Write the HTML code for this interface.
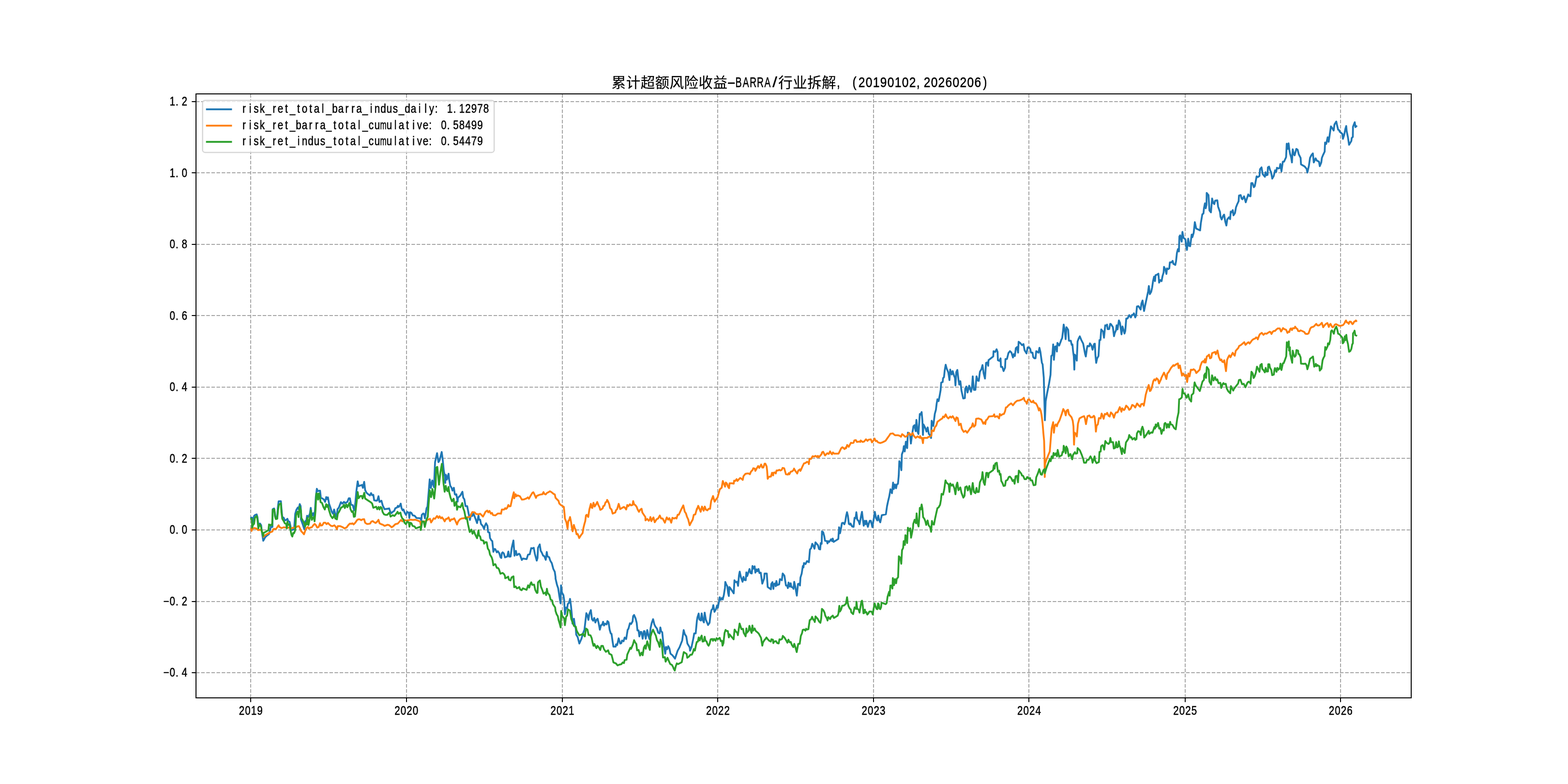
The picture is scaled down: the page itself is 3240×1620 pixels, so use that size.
<!DOCTYPE html>
<html><head><meta charset="utf-8"><title>chart</title>
<style>html,body{margin:0;padding:0;background:#fff}svg{display:block;will-change:transform}text{font-family:"Liberation Sans",sans-serif;font-size:25px;fill:#000;stroke:#000;stroke-width:0.55px;stroke-linejoin:round}</style></head>
<body>
<svg width="3240" height="1620" viewBox="0 0 3240 1620">
<rect width="3240" height="1620" fill="#fff"/>
<g stroke="#a6a6a6" stroke-width="2" stroke-dasharray="7.4 3.2" fill="none">
<line x1="518.0" y1="1442" x2="518.0" y2="194"/>
<line x1="840.0" y1="1442" x2="840.0" y2="194"/>
<line x1="1162.0" y1="1442" x2="1162.0" y2="194"/>
<line x1="1483.0" y1="1442" x2="1483.0" y2="194"/>
<line x1="1805.0" y1="1442" x2="1805.0" y2="194"/>
<line x1="2126.0" y1="1442" x2="2126.0" y2="194"/>
<line x1="2449.0" y1="1442" x2="2449.0" y2="194"/>
<line x1="2770.0" y1="1442" x2="2770.0" y2="194"/>
<line x1="405" y1="1390.0" x2="2916" y2="1390.0"/>
<line x1="405" y1="1243.0" x2="2916" y2="1243.0"/>
<line x1="405" y1="1095.0" x2="2916" y2="1095.0"/>
<line x1="405" y1="947.0" x2="2916" y2="947.0"/>
<line x1="405" y1="800.0" x2="2916" y2="800.0"/>
<line x1="405" y1="652.0" x2="2916" y2="652.0"/>
<line x1="405" y1="505.0" x2="2916" y2="505.0"/>
<line x1="405" y1="357.0" x2="2916" y2="357.0"/>
<line x1="405" y1="210.0" x2="2916" y2="210.0"/>
</g>
<g clip-path="none">
<polyline points="518.9,1069.7 520.7,1069.7 521.1,1089.5 522.1,1079.0 525.0,1066.2 527.4,1063.9 530.3,1062.9 532.0,1068.5 533.8,1084.8 535.5,1082.5 537.3,1081.9 539.6,1085.4 541.0,1097.6 542.5,1108.1 544.0,1117.4 546.0,1113.9 547.7,1110.4 551.2,1106.9 555.9,1103.4 558.2,1094.1 560.0,1088.3 562.9,1088.9 563.5,1052.2 566.4,1050.8 568.1,1061.5 569.9,1072.0 572.8,1070.8 574.0,1049.9 575.7,1035.9 580.4,1035.7 581.5,1049.9 583.3,1068.5 586.2,1069.7 588.5,1075.5 591.4,1074.3 593.8,1072.0 595.5,1076.7 598.4,1078.4 600.2,1087.1 601.9,1095.3 604.8,1094.7 607.7,1093.5 610.1,1061.5 612.4,1053.4 615.3,1048.7 617.0,1052.2 619.4,1041.7 621.1,1045.2 622.3,1061.5 621.7,1073.2 625.2,1082.5 628.7,1093.5 631.0,1076.7 632.8,1077.2 634.5,1065.6 636.8,1068.5 638.6,1065.0 640.3,1061.5 642.1,1049.3 643.8,1061.5 645.6,1065.0 647.3,1060.4 649.1,1066.2 650.8,1054.5 652.6,1026.6 654.7,1010.0 656.6,1014.9 658.4,1014.4 661.3,1013.8 663.0,1028.9 666.5,1030.1 669.4,1032.4 671.8,1037.1 674.1,1027.2 675.9,1031.2 677.6,1027.7 679.9,1040.6 682.8,1048.7 685.2,1056.9 688.1,1061.5 690.4,1052.8 693.3,1063.9 695.7,1068.5 697.4,1052.2 700.3,1048.7 704.4,1037.6 707.3,1040.6 710.8,1037.1 713.1,1039.4 717.8,1037.1 720.7,1029.5 723.0,1029.5 725.3,1042.9 728.8,1043.5 731.8,1054.5 734.1,1040.6 736.4,1014.9 739.1,994.6 741.1,1004.5 744.6,1003.3 748.1,1002.1 749.8,1008.0 752.5,995.7 754.5,1012.6 757.4,1018.4 760.9,1021.3 764.4,1023.7 766.7,1019.0 769.0,1023.1 771.4,1022.5 773.1,1033.6 777.2,1034.7 779.5,1034.2 782.1,1025.4 784.2,1037.1 788.2,1034.7 791.1,1045.2 794.6,1052.2 800.0,1051.3 800.0,1051.6 804.1,1050.5 806.4,1057.5 808.7,1060.4 811.6,1057.5 814.6,1055.7 816.9,1049.9 820.4,1048.7 822.1,1045.2 823.9,1047.6 826.2,1044.7 828.0,1040.6 829.7,1049.9 832.0,1054.6 833.8,1052.8 836.1,1059.2 839.0,1063.9 841.3,1057.5 844.8,1059.8 845.8,1070.3 847.2,1058.6 850.1,1059.8 853.0,1065.0 856.5,1065.6 860.6,1070.3 868.7,1070.9 870.5,1076.1 871.6,1063.9 874.5,1061.0 876.3,1062.1 878.0,1070.9 881.5,1049.9 883.3,1047.0 885.6,1019.0 887.9,990.5 890.3,1008.5 893.2,992.8 896.7,1006.8 899.0,954.9 903.1,936.3 906.0,954.9 908.3,951.4 912.7,934.0 914.7,949.1 917.0,972.4 919.4,985.2 920.0,998.0 921.4,981.1 923.4,991.0 926.9,978.8 928.1,991.0 930.4,1003.9 932.8,1007.3 935.1,1013.8 937.8,1007.9 939.8,1021.3 941.5,1022.5 943.0,1021.3 945.6,1036.5 946.2,1028.9 951.4,1023.6 955.5,1016.1 957.2,1028.3 959.5,1031.8 961.9,1045.8 965.4,1045.8 968.3,1061.0 971.0,1074.4 973.5,1062.1 975.9,1066.2 978.2,1061.0 979.9,1065.0 982.3,1071.4 985.8,1080.8 988.7,1065.0 989.8,1073.8 992.2,1073.8 993.9,1082.5 998.0,1087.7 1000.3,1093.0 1002.1,1086.0 1004.4,1081.3 1007.3,1086.6 1008.5,1099.4 1011.4,1100.6 1012.5,1111.6 1015.5,1116.9 1017.2,1118.0 1019.5,1140.2 1021.3,1134.3 1023.6,1134.9 1026.5,1141.3 1028.8,1139.0 1031.8,1143.6 1034.1,1151.2 1035.8,1153.0 1037.0,1143.1 1038.7,1141.3 1041.1,1143.6 1043.4,1151.8 1048.1,1150.1 1050.4,1139.6 1052.1,1150.1 1055.0,1150.1 1057.4,1132.0 1060.9,1116.9 1063.2,1148.3 1066.1,1138.4 1067.9,1147.1 1072.5,1144.2 1074.3,1146.0 1078.3,1157.0 1080.7,1154.1 1088.2,1155.3 1091.1,1146.0 1094.6,1145.4 1097.6,1132.6 1100.0,1133.2 1102.9,1132.0 1105.2,1144.4 1109.1,1158.4 1110.7,1153.0 1111.7,1132.0 1115.3,1125.0 1117.3,1138.2 1119.2,1141.3 1122.3,1148.3 1124.6,1149.1 1127.7,1156.8 1129.8,1140.5 1131.3,1149.8 1134.7,1151.4 1137.0,1158.4 1140.2,1163.8 1143.3,1175.5 1146.4,1181.7 1147.9,1192.5 1147.9,1195.5 1151.0,1208.7 1153.4,1215.7 1155.7,1231.2 1158.3,1246.8 1159.3,1209.5 1161.1,1224.3 1164.2,1229.7 1165.8,1240.6 1167.3,1269.3 1169.7,1255.3 1172.0,1256.9 1173.2,1248.3 1175.9,1245.2 1177.9,1237.5 1179.8,1251.4 1181.6,1270.1 1182.9,1288.7 1186.0,1278.6 1187.5,1290.2 1189.8,1299.6 1190.6,1311.2 1193.7,1316.6 1197.1,1329.8 1201.5,1319.8 1204.6,1308.9 1207.7,1301.1 1210.0,1280.9 1211.6,1267.0 1213.9,1271.6 1215.8,1280.9 1217.8,1268.5 1220.9,1260.7 1223.2,1279.4 1225.6,1282.5 1227.9,1277.0 1230.2,1286.4 1232.5,1280.9 1234.9,1278.6 1237.2,1288.7 1239.5,1301.1 1241.9,1291.8 1244.2,1291.0 1246.2,1284.8 1248.1,1292.6 1250.4,1288.7 1253.5,1290.2 1255.1,1283.3 1257.4,1285.6 1259.7,1301.1 1262.0,1308.9 1263.6,1309.7 1265.9,1326.0 1267.5,1336.1 1272.1,1336.1 1272.9,1331.4 1275.2,1333.0 1278.4,1319.0 1281.5,1329.8 1283.8,1329.1 1285.3,1323.6 1288.4,1325.2 1290.8,1317.4 1293.9,1320.5 1297.0,1301.1 1298.5,1299.6 1301.6,1287.9 1304.0,1289.5 1307.1,1284.0 1308.3,1273.2 1310.2,1270.8 1313.3,1277.8 1315.6,1287.1 1317.2,1302.7 1319.5,1302.7 1321.1,1315.1 1323.4,1305.8 1325.4,1305.8 1328.0,1319.8 1330.4,1304.2 1331.9,1304.2 1334.3,1319.8 1337.4,1301.9 1339.7,1313.5 1342.0,1320.5 1344.3,1298.0 1346.7,1287.1 1349.5,1279.4 1352.1,1290.2 1354.4,1294.9 1357.5,1298.8 1359.9,1307.3 1363.0,1308.9 1364.5,1296.5 1366.1,1304.2 1368.4,1306.6 1370.7,1329.1 1373.1,1343.0 1374.6,1350.8 1376.2,1336.8 1378.5,1341.5 1380.8,1335.3 1383.2,1339.9 1385.5,1350.8 1389.4,1353.9 1394.8,1360.9 1400.2,1344.6 1404.1,1337.6 1409.6,1323.6 1412.7,1301.9 1415.0,1310.4 1418.1,1315.1 1420.4,1329.8 1425.1,1337.6 1425.9,1344.6 1429.0,1336.8 1432.9,1318.2 1434.4,1308.9 1437.5,1308.9 1440.0,1282.5 1441.3,1275.2 1443.7,1267.8 1445.2,1279.9 1448.3,1282.2 1449.9,1267.5 1452.2,1281.4 1454.5,1286.1 1456.1,1265.9 1458.4,1279.9 1463.1,1291.5 1466.2,1286.9 1468.2,1269.8 1470.1,1260.5 1472.4,1258.1 1473.9,1250.4 1476.3,1264.3 1479.4,1258.9 1481.7,1251.1 1483.3,1255.8 1485.6,1243.4 1487.1,1234.1 1489.5,1239.5 1491.8,1235.6 1493.4,1238.7 1495.7,1229.4 1498.0,1214.7 1498.7,1202.5 1500.6,1207.5 1502.9,1211.4 1504.4,1224.6 1506.0,1231.6 1507.1,1213.0 1509.1,1215.3 1516.1,1226.1 1517.6,1199.0 1520.0,1202.9 1523.1,1202.1 1525.1,1210.6 1527.0,1188.9 1528.5,1181.1 1530.8,1192.0 1534.4,1202.1 1536.3,1192.0 1537.8,1198.2 1540.9,1199.0 1542.2,1182.7 1544.0,1190.4 1548.7,1175.7 1551.0,1184.2 1553.4,1185.0 1554.9,1169.5 1557.2,1174.9 1559.3,1170.2 1560.8,1183.4 1563.4,1176.5 1565.0,1180.3 1567.3,1175.7 1569.2,1184.2 1572.0,1183.4 1575.1,1206.0 1579.0,1195.1 1579.8,1185.0 1584.4,1185.0 1586.3,1213.0 1593.0,1217.6 1593.7,1206.7 1596.1,1202.9 1598.1,1216.8 1599.2,1206.7 1602.3,1205.2 1603.0,1211.4 1604.3,1200.5 1606.1,1209.1 1610.0,1207.5 1611.6,1196.6 1615.5,1199.0 1617.3,1185.0 1620.9,1189.7 1624.0,1209.8 1626.3,1209.8 1627.9,1215.3 1629.4,1203.6 1631.8,1212.2 1633.8,1205.2 1635.3,1213.0 1638.0,1213.7 1639.5,1216.8 1641.1,1202.1 1643.4,1213.0 1646.5,1230.8 1648.9,1206.7 1651.2,1206.0 1653.0,1209.8 1654.0,1193.5 1656.6,1185.0 1658.9,1169.5 1660.2,1172.6 1661.3,1163.3 1664.4,1165.6 1667.5,1159.4 1671.4,1161.7 1673.7,1135.3 1676.0,1133.0 1678.4,1123.7 1680.7,1128.3 1683.0,1133.8 1685.0,1120.6 1687.7,1123.7 1690.3,1126.8 1692.3,1134.5 1694.7,1135.3 1695.9,1122.1 1697.8,1123.7 1698.5,1098.0 1700.9,1099.6 1703.2,1108.1 1704.8,1117.5 1708.6,1118.2 1709.9,1122.9 1711.4,1118.2 1713.3,1119.8 1717.2,1114.3 1719.5,1118.2 1720.7,1112.8 1722.6,1119.8 1727.3,1116.7 1732.2,1113.6 1733.8,1089.5 1735.8,1101.9 1737.4,1094.2 1739.7,1081.0 1742.0,1080.2 1744.7,1083.3 1746.7,1077.1 1748.2,1066.9 1750.2,1058.4 1752.1,1066.1 1754.0,1082.5 1756.8,1084.0 1757.5,1081.7 1760.7,1087.9 1763.8,1088.7 1765.8,1070.0 1768.0,1070.8 1769.5,1058.4 1771.5,1073.9 1773.9,1076.2 1776.2,1083.2 1779.3,1066.1 1781.1,1057.6 1782.7,1070.8 1784.7,1086.3 1787.0,1076.2 1788.6,1083.2 1790.2,1076.2 1793.3,1088.7 1794.8,1083.2 1797.1,1076.2 1799.5,1076.2 1802.6,1089.4 1805.7,1070.8 1807.7,1057.6 1810.3,1070.8 1812.7,1075.5 1814.7,1065.4 1816.6,1074.7 1818.9,1079.3 1822.0,1064.6 1830.5,1062.7 1832.9,1046.0 1835.2,1035.1 1837.5,1025.8 1840.0,1011.0 1840.0,1012.0 1843.1,1019.0 1845.4,997.2 1847.0,1010.4 1849.3,1001.1 1851.6,1008.9 1853.2,1001.1 1855.5,999.6 1857.1,982.5 1858.3,953.0 1861.0,959.2 1862.5,971.6 1863.6,939.0 1866.4,931.2 1867.6,921.9 1869.5,932.8 1871.8,912.6 1874.5,925.8 1876.0,894.0 1878.8,895.5 1880.7,900.2 1882.2,916.5 1884.3,900.2 1886.6,886.2 1887.4,880.9 1889.7,878.6 1892.0,891.0 1893.6,867.7 1895.9,891.8 1897.8,896.9 1900.6,855.3 1902.1,856.8 1904.4,851.4 1906.0,869.3 1907.1,898.8 1908.3,877.0 1912.2,884.8 1914.5,891.8 1916.9,883.2 1919.2,896.4 1921.5,899.5 1923.9,905.0 1925.1,869.3 1928.5,880.1 1931.6,855.3 1933.9,846.7 1935.5,833.5 1937.0,825.0 1939.4,828.9 1941.7,817.2 1943.7,805.6 1944.8,790.8 1947.9,789.3 1948.7,781.5 1950.6,779.2 1952.1,765.2 1954.1,753.6 1956.1,761.3 1959.6,769.9 1961.9,785.4 1963.4,763.7 1966.6,773.8 1968.6,766.8 1971.2,776.1 1973.2,780.7 1974.3,796.3 1975.9,769.1 1978.2,764.4 1980.5,784.6 1982.1,794.7 1984.4,787.7 1986.7,807.1 1990.3,823.4 1993.7,822.7 1994.5,803.3 1996.8,798.6 1999.2,811.0 2002.7,797.0 2006.5,809.5 2008.5,799.4 2010.0,777.6 2012.4,805.6 2015.5,805.6 2017.8,777.6 2020.1,786.2 2022.5,787.0 2024.8,768.3 2027.9,762.9 2030.2,754.3 2032.5,771.4 2035.3,782.3 2037.5,749.7 2040.3,748.9 2041.9,755.9 2042.6,744.3 2052.4,736.5 2053.0,725.6 2056.6,727.2 2059.3,721.7 2061.3,727.2 2062.0,744.3 2065.2,745.8 2067.5,740.4 2068.3,758.2 2071.1,758.2 2073.7,766.8 2076.8,759.8 2077.6,741.9 2080.7,741.9 2083.8,729.5 2086.9,725.6 2090.0,728.7 2093.1,738.8 2094.7,731.8 2097.0,735.7 2099.0,719.4 2101.6,717.1 2103.7,728.7 2104.8,706.2 2108.6,709.3 2111.7,713.2 2114.8,710.9 2117.2,724.1 2121.1,730.3 2123.4,717.9 2126.5,717.9 2128.8,721.0 2130.4,728.7 2133.5,728.7 2135.0,738.0 2137.4,740.4 2139.7,740.4 2141.2,725.6 2145.9,728.7 2147.8,718.6 2149.8,727.2 2152.9,749.7 2154.4,752.8 2156.8,780.7 2159.1,868.5 2160.7,828.9 2163.8,811.8 2167.6,793.2 2170.7,774.5 2172.3,735.7 2174.6,733.4 2176.2,711.6 2177.7,743.5 2180.1,716.3 2182.4,715.5 2183.9,726.4 2185.0,708.5 2188.6,714.0 2192.5,703.9 2192.4,703.3 2194.8,698.6 2196.3,686.2 2197.9,670.7 2200.2,683.1 2202.0,700.9 2203.6,676.1 2207.2,681.5 2208.7,704.0 2212.6,704.0 2214.5,712.6 2216.0,711.8 2217.3,725.8 2218.8,736.6 2219.9,763.8 2220.8,732.8 2222.7,735.9 2225.0,745.2 2226.6,705.6 2228.9,699.4 2231.2,695.0 2234.3,702.5 2238.2,710.2 2239.8,718.8 2242.1,731.2 2243.7,736.6 2246.0,719.6 2247.1,714.9 2250.7,715.7 2252.2,709.5 2255.3,714.1 2257.6,722.7 2260.7,711.0 2262.3,710.2 2263.5,733.5 2265.1,749.8 2267.0,740.5 2269.8,735.9 2271.9,702.5 2273.9,702.5 2275.5,680.7 2279.4,685.4 2281.2,697.8 2283.7,672.2 2286.4,673.0 2287.5,670.7 2288.7,680.0 2291.8,680.0 2294.1,669.1 2295.7,669.9 2299.6,676.1 2301.9,694.7 2303.4,688.5 2306.1,682.3 2307.3,672.2 2309.2,680.7 2312.0,662.1 2314.3,667.5 2317.4,690.8 2319.4,674.5 2321.3,680.7 2323.6,689.3 2325.2,683.9 2327.2,658.2 2329.8,658.2 2333.4,651.2 2336.8,655.9 2339.2,650.5 2341.5,650.5 2343.0,647.4 2345.8,655.9 2347.7,651.2 2349.3,633.4 2352.4,632.6 2357.0,639.6 2358.6,627.2 2360.9,621.0 2364.0,642.7 2366.3,631.1 2372.5,601.6 2373.9,591.0 2375.9,607.8 2378.7,603.1 2380.7,594.1 2382.7,580.1 2384.7,571.6 2386.6,580.9 2387.8,568.5 2390.5,567.7 2393.6,565.4 2395.1,584.0 2397.8,578.6 2400.2,580.9 2402.1,570.8 2404.4,563.0 2405.2,551.4 2408.0,556.8 2410.2,566.1 2411.4,554.5 2413.8,556.1 2416.1,554.5 2417.3,542.1 2420.7,542.1 2423.1,539.0 2424.6,545.2 2428.5,547.5 2430.1,539.8 2431.9,522.7 2433.9,514.9 2436.0,519.6 2437.0,488.5 2438.6,486.2 2441.7,499.4 2443.3,479.2 2445.6,491.6 2449.5,494.7 2450.6,507.1 2452.6,516.5 2455.2,493.2 2457.2,507.9 2459.3,508.7 2461.1,494.7 2462.4,484.6 2463.9,490.1 2466.6,480.7 2468.9,459.0 2471.7,472.2 2479.8,476.1 2481.3,461.3 2484.4,442.7 2486.7,441.1 2487.8,430.3 2489.8,420.2 2491.4,430.3 2493.0,423.3 2493.4,400.0 2493.4,398.6 2497.1,403.1 2499.1,434.9 2502.2,438.8 2504.6,410.1 2506.9,419.4 2509.2,421.7 2510.8,414.7 2515.4,413.9 2517.0,427.1 2520.9,438.0 2522.0,448.1 2524.4,453.5 2527.1,446.6 2529.4,443.4 2531.7,457.4 2534.1,466.0 2535.9,453.5 2539.5,448.9 2541.8,452.8 2543.1,437.2 2544.9,438.8 2547.3,434.1 2548.8,445.0 2551.9,440.3 2553.9,428.7 2556.6,421.7 2559.4,415.7 2560.2,404.0 2563.7,403.2 2565.6,410.2 2567.1,411.8 2570.6,405.6 2574.1,418.0 2576.5,410.2 2579.3,401.7 2581.1,404.8 2583.9,405.6 2585.5,378.4 2588.1,378.4 2590.9,386.9 2592.8,384.6 2596.6,364.4 2599.0,366.0 2602.5,363.6 2603.6,349.7 2606.7,345.8 2609.1,359.8 2613.7,365.2 2615.0,355.9 2616.8,362.1 2619.2,361.3 2619.9,345.8 2622.3,344.2 2624.6,352.0 2626.5,355.9 2628.9,369.1 2632.0,363.6 2634.7,352.0 2637.0,355.1 2638.6,346.6 2641.7,348.1 2644.0,347.3 2645.6,338.8 2647.9,354.3 2650.7,334.1 2653.3,334.1 2657.5,324.8 2658.8,296.9 2661.1,307.7 2662.6,296.1 2664.2,309.3 2665.7,317.8 2668.1,325.6 2669.6,335.7 2671.2,308.5 2673.5,318.6 2675.1,320.9 2678.6,307.7 2681.3,309.3 2683.6,318.6 2687.5,326.4 2688.3,339.6 2696.0,344.2 2699.9,348.9 2701.5,356.6 2704.6,342.7 2706.9,326.4 2710.0,320.2 2712.8,317.0 2714.7,335.7 2718.5,327.1 2720.9,331.8 2725.5,334.1 2727.1,343.4 2730.2,335.7 2731.4,326.4 2733.6,320.9 2737.2,313.2 2738.0,294.5 2740.3,297.6 2743.4,283.7 2745.4,293.0 2747.3,280.6 2750.1,261.1 2751.9,263.5 2755.8,269.7 2757.4,257.3 2761.2,251.1 2762.8,258.8 2765.1,268.1 2767.1,268.9 2768.2,272.0 2773.7,276.7 2774.9,286.8 2777.5,279.0 2779.9,266.6 2781.7,260.4 2782.7,271.2 2785.3,283.7 2787.6,299.2 2792.3,291.4 2793.1,285.2 2795.4,282.9 2795.7,261.9 2799.3,252.6 2800.8,262.7 2802.7,260.8" fill="none" stroke="#1f77b4" stroke-width="3.75" stroke-linejoin="round" stroke-linecap="square"/>
<polyline points="518.9,1092.4 519.8,1097.0 521.5,1092.4 525.0,1091.2 529.1,1091.8 533.2,1095.3 536.1,1094.7 539.6,1095.3 542.5,1101.1 544.3,1109.3 546.6,1106.9 551.2,1104.0 558.2,1100.0 562.9,1098.2 564.6,1093.5 567.0,1092.7 569.9,1093.5 572.8,1089.5 575.7,1085.4 577.4,1088.9 581.5,1091.2 586.8,1089.5 592.0,1090.6 596.7,1090.1 601.3,1092.4 604.8,1090.6 608.3,1090.1 611.8,1089.5 614.7,1087.7 617.6,1087.1 620.0,1091.8 622.3,1097.6 625.2,1100.5 628.1,1104.0 630.4,1097.6 632.8,1091.8 636.3,1088.9 638.0,1092.4 641.5,1090.1 644.4,1089.5 647.3,1085.4 650.2,1082.5 652.6,1084.8 655.5,1090.1 658.4,1088.9 661.3,1081.3 663.0,1086.0 666.0,1085.4 668.9,1080.2 672.4,1080.2 674.7,1083.1 677.6,1080.7 680.5,1083.6 684.0,1086.6 687.5,1087.1 691.0,1085.4 693.9,1088.9 696.2,1093.5 698.0,1087.1 702.6,1087.1 707.3,1088.9 712.0,1091.8 716.0,1090.1 719.5,1085.4 723.0,1081.9 725.9,1082.5 728.3,1081.3 730.6,1083.6 734.1,1080.2 737.6,1074.9 739.9,1073.2 743.4,1073.2 746.3,1074.9 749.2,1073.2 752.5,1072.9 754.5,1080.2 758.0,1082.5 761.5,1082.5 764.9,1081.9 767.3,1077.8 770.2,1076.7 773.1,1079.0 776.0,1080.7 779.5,1077.8 782.1,1074.1 784.2,1081.3 787.7,1083.1 791.1,1084.2 794.6,1086.6 800.0,1084.8 800.0,1084.3 803.5,1084.8 809.3,1089.5 812.8,1087.2 816.9,1083.1 822.1,1081.9 828.5,1074.4 831.4,1077.3 834.9,1074.9 839.6,1075.5 844.3,1074.9 848.9,1073.8 853.6,1074.4 857.6,1073.8 862.9,1075.5 868.1,1077.8 869.6,1085.4 869.9,1078.4 874.5,1077.3 879.2,1077.3 883.9,1073.8 888.5,1072.0 890.8,1079.6 893.8,1074.9 896.1,1070.9 899.0,1072.0 903.1,1066.2 906.0,1070.3 908.3,1066.8 911.2,1070.9 913.5,1069.1 916.5,1073.2 918.8,1077.3 921.7,1072.0 924.0,1072.0 926.9,1069.1 929.9,1076.7 932.8,1073.2 935.7,1073.2 938.6,1070.9 941.5,1077.3 944.4,1083.7 946.7,1077.3 950.2,1073.2 953.7,1071.4 958.4,1070.9 963.0,1069.1 967.7,1068.5 971.2,1068.0 973.5,1063.3 975.9,1058.1 980.5,1058.6 984.0,1062.1 988.7,1062.7 992.2,1061.5 998.0,1067.4 1000.3,1063.3 1003.2,1057.5 1006.7,1055.1 1009.0,1058.6 1011.4,1055.7 1014.3,1061.5 1016.6,1059.8 1018.9,1064.5 1023.6,1065.0 1028.8,1061.0 1032.9,1061.0 1035.2,1061.5 1037.0,1052.8 1041.7,1052.8 1044.0,1049.9 1045.7,1051.6 1048.1,1049.3 1050.4,1043.5 1052.1,1046.4 1055.0,1045.8 1058.0,1031.8 1060.3,1022.5 1061.7,1017.2 1062.6,1029.5 1065.5,1021.3 1067.3,1025.4 1069.6,1023.6 1074.3,1025.4 1078.3,1032.4 1083.0,1031.8 1087.7,1030.1 1090.6,1027.7 1092.9,1030.6 1095.8,1025.4 1100.0,1018.4 1102.1,1017.1 1104.4,1021.7 1107.5,1028.7 1109.1,1024.8 1114.5,1022.5 1117.6,1021.7 1120.7,1021.4 1123.1,1016.8 1124.6,1020.2 1127.7,1021.7 1130.1,1018.6 1133.2,1017.1 1136.3,1015.2 1139.4,1016.8 1143.3,1020.2 1146.4,1021.7 1147.9,1028.7 1151.0,1031.8 1154.1,1034.9 1155.7,1040.4 1158.8,1043.5 1161.1,1045.0 1165.0,1047.4 1166.6,1062.1 1167.3,1071.4 1170.4,1079.2 1172.8,1092.4 1174.3,1076.1 1175.9,1075.3 1177.9,1068.3 1179.8,1077.6 1181.6,1090.1 1183.2,1097.8 1185.7,1084.6 1187.5,1090.8 1189.1,1093.9 1191.4,1104.0 1193.7,1103.3 1196.8,1111.8 1200.7,1105.6 1203.8,1101.7 1205.4,1091.6 1207.7,1082.3 1209.3,1076.9 1210.8,1065.2 1212.4,1063.7 1215.5,1068.3 1217.8,1052.8 1220.9,1041.1 1222.5,1048.9 1224.0,1049.7 1226.3,1038.8 1228.7,1046.6 1231.8,1041.9 1234.1,1037.3 1236.4,1043.5 1238.8,1048.1 1240.3,1053.6 1243.4,1052.0 1245.7,1049.7 1246.5,1045.8 1248.9,1045.0 1251.2,1038.0 1253.0,1037.3 1254.6,1032.9 1256.6,1036.5 1258.9,1041.9 1260.5,1049.7 1263.6,1052.8 1265.9,1061.3 1271.4,1059.0 1272.9,1054.3 1275.2,1052.0 1278.4,1041.1 1279.9,1045.8 1281.5,1052.0 1285.3,1049.7 1289.2,1047.4 1291.6,1049.7 1293.9,1052.8 1296.2,1043.5 1298.5,1045.8 1301.6,1041.9 1304.0,1044.3 1307.1,1043.5 1308.3,1035.4 1310.2,1041.9 1313.3,1044.3 1315.6,1047.4 1317.2,1052.0 1320.3,1057.5 1322.6,1053.6 1325.7,1051.2 1327.3,1059.0 1330.4,1063.7 1333.5,1068.3 1333.8,1075.3 1337.4,1072.2 1340.5,1076.1 1342.8,1073.0 1344.0,1068.3 1345.9,1076.9 1348.2,1072.2 1350.2,1069.1 1352.9,1079.2 1356.8,1073.0 1359.9,1071.4 1363.4,1065.2 1366.1,1071.4 1369.2,1071.4 1373.9,1080.0 1377.7,1069.1 1380.8,1073.8 1383.2,1070.7 1387.0,1080.0 1389.4,1069.9 1393.3,1071.4 1395.6,1069.9 1397.9,1071.4 1400.2,1063.7 1402.6,1063.7 1408.0,1052.0 1411.9,1044.3 1415.0,1057.5 1417.3,1060.6 1419.7,1068.3 1422.0,1073.0 1425.1,1085.4 1428.2,1079.2 1431.3,1073.8 1433.6,1063.7 1436.7,1062.9 1440.0,1051.2 1440.0,1053.0 1442.8,1045.2 1445.4,1051.4 1447.8,1057.6 1450.6,1046.7 1454.0,1055.3 1456.3,1046.7 1458.6,1053.0 1461.7,1054.5 1464.1,1051.4 1467.2,1051.4 1469.5,1035.1 1473.4,1025.0 1476.5,1036.6 1479.6,1032.0 1482.7,1028.1 1485.0,1019.6 1487.4,1011.0 1491.2,1007.9 1493.6,993.9 1495.9,999.4 1498.2,1005.6 1499.8,997.0 1502.1,999.4 1504.4,1005.6 1506.5,1008.7 1507.5,998.6 1512.2,998.6 1516.1,999.4 1516.9,993.2 1519.2,993.9 1522.0,990.1 1523.9,993.9 1527.0,990.1 1529.3,987.7 1532.4,989.3 1534.7,991.6 1536.3,983.9 1540.2,979.2 1544.0,978.4 1547.1,978.4 1549.5,980.0 1551.8,974.5 1554.9,971.4 1556.5,967.5 1559.6,968.3 1560.8,973.0 1563.4,968.3 1566.6,962.9 1568.9,966.8 1572.8,959.8 1575.1,966.0 1577.4,966.0 1579.8,958.2 1581.6,958.2 1584.1,963.7 1585.2,973.0 1586.3,989.3 1588.3,985.4 1593.0,984.6 1595.3,976.9 1597.6,982.3 1598.4,976.9 1601.5,976.1 1603.0,978.4 1604.6,972.2 1607.7,972.2 1610.0,970.7 1612.4,972.2 1615.5,970.7 1617.0,966.8 1620.4,967.5 1624.0,980.0 1627.9,980.7 1629.8,977.6 1631.0,980.0 1634.1,974.5 1637.2,973.8 1639.5,971.4 1640.8,968.3 1643.4,973.0 1647.3,978.4 1649.6,972.2 1652.7,969.9 1654.0,973.0 1655.8,969.1 1658.2,963.7 1661.3,957.5 1664.4,956.7 1667.5,954.3 1670.6,955.1 1671.4,959.0 1672.6,948.1 1676.0,948.1 1679.1,942.7 1682.2,943.5 1685.3,941.9 1688.1,944.3 1690.0,941.9 1691.6,945.0 1694.7,941.9 1697.8,938.0 1698.5,934.9 1700.9,933.4 1704.8,941.1 1709.4,936.5 1712.5,938.0 1715.2,932.6 1717.2,936.5 1719.2,938.8 1721.1,934.9 1723.4,937.3 1732.7,937.3 1735.8,931.1 1738.1,926.4 1740.5,924.1 1742.8,925.6 1745.1,928.0 1747.5,924.8 1748.2,926.4 1750.6,919.4 1753.7,923.3 1758.3,914.8 1760.7,915.5 1763.8,914.8 1765.3,910.1 1768.4,909.3 1770.7,913.2 1776.2,912.4 1777.7,913.2 1778.5,910.1 1782.4,913.2 1785.5,912.4 1789.4,907.8 1792.5,910.9 1794.8,908.5 1799.5,907.8 1801.8,914.0 1804.9,910.1 1807.2,906.2 1809.6,911.6 1811.9,910.9 1814.2,914.0 1818.9,915.5 1823.5,914.0 1829.8,910.9 1833.6,905.4 1837.5,900.0 1840.0,896.1 1840.0,896.3 1844.7,895.5 1849.3,899.4 1855.5,899.4 1858.6,900.2 1861.7,902.5 1864.1,897.1 1867.2,899.4 1870.3,902.5 1873.4,901.7 1876.5,897.1 1878.8,894.8 1881.9,899.4 1885.8,894.8 1888.1,900.2 1892.0,904.8 1895.9,901.7 1900.6,904.8 1901.3,901.0 1903.7,905.6 1905.2,904.8 1907.1,915.7 1908.3,904.8 1916.1,904.8 1917.6,903.3 1922.3,901.7 1924.6,900.2 1925.4,889.3 1929.3,890.9 1931.6,883.1 1934.7,879.3 1937.0,871.6 1940.2,869.3 1943.3,866.9 1947.1,864.6 1948.7,860.7 1951.0,862.3 1954.1,856.1 1956.5,861.5 1959.6,864.6 1963.4,860.7 1965.8,863.0 1968.6,859.9 1972.0,865.4 1974.3,870.0 1976.3,862.3 1979.0,863.8 1981.6,878.6 1985.2,875.5 1987.5,886.3 1991.4,892.5 1995.3,890.2 1998.4,894.1 2002.3,888.7 2005.4,884.0 2007.7,882.5 2010.0,874.7 2012.4,881.7 2015.5,878.6 2017.0,865.4 2021.7,864.6 2027.9,866.9 2031.8,875.5 2034.1,872.4 2036.0,876.2 2037.2,868.5 2039.5,866.9 2043.4,860.7 2052.0,859.9 2054.3,856.1 2055.8,861.5 2060.5,859.9 2064.4,864.6 2065.9,855.3 2068.3,858.4 2071.4,856.1 2074.5,855.3 2076.8,849.8 2078.4,842.1 2080.7,841.3 2083.8,837.4 2089.2,833.5 2093.1,837.4 2097.8,831.2 2101.6,828.1 2107.1,827.3 2112.5,825.0 2115.6,821.9 2117.2,828.1 2120.3,830.4 2121.8,834.3 2124.2,825.8 2126.5,825.0 2130.4,830.4 2132.7,831.2 2135.0,828.1 2136.6,832.0 2140.5,833.5 2142.8,837.4 2145.1,842.9 2146.7,848.3 2148.2,843.6 2150.6,849.1 2152.1,856.8 2154.4,875.5 2156.0,895.7 2157.5,911.2 2158.3,942.2 2158.8,985.7 2159.6,957.8 2162.2,950.0 2169.2,932.9 2171.5,903.4 2173.1,884.8 2176.2,872.4 2177.7,894.1 2179.3,880.1 2181.6,877.0 2183.9,880.9 2185.5,875.5 2189.4,868.5 2194.0,855.3 2197.1,845.2 2200.2,850.6 2202.1,858.4 2204.1,848.3 2206.8,846.7 2208.8,856.1 2214.2,862.3 2216.6,869.3 2218.1,880.9 2219.3,918.8 2220.4,894.1 2223.5,896.4 2225.1,901.9 2227.4,875.5 2230.5,864.6 2234.4,862.3 2240.0,859.9 2241.6,863.9 2244.0,876.3 2247.1,860.0 2251.0,858.4 2253.3,862.3 2257.2,862.3 2260.3,859.2 2261.8,861.5 2263.4,876.3 2264.5,891.8 2266.0,879.4 2268.5,877.0 2270.7,863.9 2274.3,864.6 2276.3,854.5 2278.4,859.2 2280.5,865.4 2282.8,855.3 2285.9,856.1 2287.8,853.0 2290.6,859.2 2292.9,860.7 2295.5,852.2 2299.1,856.1 2301.7,863.1 2304.2,855.3 2306.1,852.2 2309.2,852.2 2311.5,846.8 2313.9,841.3 2317.3,850.7 2318.8,843.7 2322.4,847.5 2323.9,846.0 2327.0,838.2 2330.9,842.1 2333.3,846.8 2336.4,844.4 2339.5,836.7 2342.6,838.2 2345.7,842.1 2349.6,833.6 2352.7,837.5 2356.1,840.6 2358.1,835.1 2362.0,834.3 2363.5,838.2 2365.1,829.7 2367.4,815.7 2370.5,804.8 2373.6,795.5 2376.0,808.0 2377.5,807.2 2379.8,801.7 2383.0,787.8 2385.3,783.9 2387.6,786.2 2389.9,781.6 2393.0,784.7 2394.9,792.4 2399.3,783.1 2399.7,780.9 2405.2,770.0 2407.5,775.5 2410.1,783.2 2412.1,771.6 2414.5,769.3 2419.9,759.9 2424.6,754.5 2426.1,756.1 2430.0,753.0 2433.9,750.9 2435.4,760.7 2438.1,755.3 2442.4,776.2 2444.8,771.6 2447.9,777.0 2451.0,774.7 2453.0,789.4 2455.6,771.6 2458.0,777.8 2460.7,763.8 2463.4,764.6 2466.5,763.0 2469.6,765.4 2471.9,770.8 2478.9,763.8 2480.5,756.1 2483.6,748.3 2486.7,746.0 2488.2,749.1 2489.8,742.1 2491.3,749.1 2493.7,736.6 2496.0,735.1 2498.3,732.8 2500.2,740.5 2503.0,739.0 2504.5,729.7 2510.7,727.3 2512.3,732.0 2515.7,724.2 2518.5,737.4 2521.6,744.4 2523.9,742.9 2525.5,747.5 2527.8,748.3 2529.7,744.4 2533.3,766.9 2535.6,743.6 2537.9,738.2 2540.2,734.3 2542.6,738.2 2547.2,728.9 2549.6,732.8 2551.4,735.1 2553.4,725.0 2558.9,718.8 2560.4,714.9 2563.5,713.4 2567.4,710.2 2571.0,707.1 2573.6,712.6 2577.5,708.7 2580.0,707.1 2582.1,710.0 2583.9,707.6 2586.2,704.2 2588.5,701.8 2591.4,700.1 2593.8,699.5 2595.5,697.2 2597.3,697.7 2599.0,701.2 2601.0,695.4 2603.1,690.8 2607.2,687.8 2610.7,691.9 2613.8,689.0 2617.1,689.6 2620.6,687.3 2623.5,685.5 2625.2,686.1 2627.3,690.2 2629.9,685.5 2632.2,683.8 2634.5,683.8 2637.4,680.9 2640.4,678.5 2644.4,678.5 2647.1,684.9 2649.1,682.0 2651.1,678.0 2653.2,679.7 2657.6,681.4 2660.2,687.8 2663.1,684.9 2664.2,686.1 2666.0,679.7 2667.7,678.5 2669.5,682.0 2671.8,678.0 2674.7,678.5 2676.2,675.0 2678.8,678.5 2681.1,680.3 2682.3,683.8 2685.2,684.4 2687.5,682.6 2691.6,684.4 2695.1,686.1 2697.4,689.6 2700.9,690.2 2703.8,689.0 2706.2,682.6 2707.3,679.1 2709.7,676.2 2712.0,675.6 2714.3,675.0 2717.2,672.1 2719.8,669.2 2721.9,672.1 2724.2,672.7 2727.1,671.5 2729.4,669.2 2731.4,666.9 2732.9,672.1 2734.1,676.2 2737.0,672.1 2739.9,669.2 2742.8,667.5 2744.2,671.0 2745.8,675.6 2747.7,671.0 2749.2,669.2 2751.0,672.7 2753.3,676.2 2755.7,675.0 2758.0,671.0 2760.3,669.8 2763.2,671.0 2766.1,672.7 2769.0,673.3 2772.0,672.7 2775.5,671.5 2778.4,667.5 2779.5,664.6 2781.3,662.2 2783.0,666.3 2784.8,666.3 2786.9,669.2 2788.8,664.6 2791.2,664.6 2793.5,668.1 2794.7,669.8 2796.4,668.1 2798.2,664.6 2799.9,664.0 2801.7,662.2 2802.5,663.3" fill="none" stroke="#ff7f0e" stroke-width="3.75" stroke-linejoin="round" stroke-linecap="square"/>
<polyline points="518.9,1072.0 520.7,1072.0 521.1,1090.6 522.7,1084.8 525.0,1082.5 526.8,1069.7 530.5,1066.2 532.0,1073.2 533.8,1091.8 535.5,1084.8 537.3,1084.2 539.6,1089.5 541.0,1097.6 542.5,1103.4 544.0,1107.5 544.8,1101.1 548.9,1098.8 554.7,1095.3 555.9,1083.6 558.2,1086.0 560.0,1084.2 562.3,1085.4 563.5,1053.4 567.0,1052.8 568.1,1066.2 569.9,1072.6 572.8,1072.0 574.5,1054.5 576.3,1042.9 580.4,1040.0 581.5,1058.0 583.3,1072.0 586.2,1076.7 588.5,1081.3 591.4,1082.5 592.6,1091.8 593.8,1077.8 595.5,1084.8 598.4,1083.6 600.2,1095.3 602.5,1105.8 604.0,1108.7 606.0,1101.1 607.7,1101.7 610.1,1095.3 611.8,1065.0 613.5,1059.2 615.3,1056.9 617.0,1068.5 619.4,1046.4 621.7,1054.5 622.9,1070.8 625.8,1075.5 628.7,1081.3 630.4,1088.3 632.2,1080.2 633.9,1083.6 635.3,1069.7 637.4,1084.8 639.8,1073.2 642.3,1054.5 644.4,1074.3 646.5,1069.7 648.5,1068.5 650.0,1077.2 652.0,1054.5 653.7,1019.6 656.1,1020.2 657.2,1032.4 659.0,1019.6 660.7,1026.6 662.5,1037.6 665.4,1039.4 668.3,1047.5 671.2,1052.8 674.1,1041.7 675.9,1047.5 677.6,1043.5 679.9,1054.5 683.4,1065.6 686.9,1070.8 689.2,1067.9 690.8,1062.7 692.7,1071.4 696.2,1073.2 698.0,1061.5 700.9,1056.9 705.0,1048.7 707.9,1047.5 710.8,1042.9 712.5,1049.9 715.5,1042.3 717.8,1048.1 721.9,1039.4 724.2,1052.2 727.1,1058.0 729.4,1056.3 731.2,1067.9 733.5,1067.3 735.2,1052.2 737.6,1031.2 739.1,1016.7 741.1,1029.5 744.6,1024.8 747.5,1024.8 749.2,1030.1 752.7,1018.4 754.5,1030.1 759.7,1033.6 766.7,1038.2 769.0,1040.6 771.4,1049.3 774.8,1048.1 777.2,1047.0 779.5,1052.2 782.4,1047.5 784.2,1052.8 786.5,1047.5 788.8,1049.9 790.6,1058.0 793.5,1062.7 797.0,1063.9 800.0,1063.9 800.0,1063.9 804.7,1059.2 807.0,1067.4 811.6,1064.5 815.1,1066.2 819.2,1061.0 821.5,1057.5 823.3,1061.5 827.4,1059.2 829.1,1066.2 831.4,1071.4 833.8,1073.2 835.5,1079.6 839.0,1083.1 841.3,1077.8 844.8,1079.6 846.0,1088.3 847.7,1080.2 850.1,1081.3 852.4,1086.6 856.5,1087.7 859.4,1091.8 868.7,1088.3 869.6,1095.3 872.2,1077.3 875.7,1077.8 877.8,1088.9 881.5,1072.6 883.9,1068.0 885.6,1042.3 887.9,1013.2 890.8,1027.1 893.5,1010.3 897.2,1030.1 900.2,1001.5 901.3,966.6 903.6,964.8 907.1,1001.5 910.1,975.9 913.0,958.4 914.7,975.9 916.5,999.2 918.8,1016.1 921.1,1003.9 922.9,1012.0 924.6,1014.9 926.9,1006.2 928.1,1016.7 931.0,1028.3 933.9,1035.9 937.4,1030.6 939.2,1045.2 943.0,1036.5 944.4,1053.3 946.2,1046.4 951.4,1048.1 955.2,1039.4 957.2,1050.4 959.5,1056.3 962.5,1072.0 964.8,1070.9 967.1,1083.7 970.6,1099.4 974.1,1094.2 976.4,1102.9 979.3,1097.1 981.7,1104.1 985.8,1112.2 988.7,1095.9 989.8,1106.4 992.2,1108.7 993.9,1115.7 999.1,1117.4 1000.3,1123.3 1002.6,1120.4 1005.6,1120.4 1007.9,1133.2 1010.8,1137.8 1012.5,1146.0 1016.0,1151.8 1017.8,1157.6 1019.5,1168.1 1021.3,1166.4 1023.6,1165.8 1026.5,1173.3 1029.4,1173.9 1031.2,1176.8 1034.1,1185.6 1038.7,1183.8 1041.7,1186.7 1043.4,1190.0 1043.9,1194.8 1047.8,1193.2 1050.1,1191.6 1051.6,1197.9 1054.8,1199.4 1057.1,1193.2 1061.0,1190.9 1062.5,1213.4 1065.6,1211.8 1068.0,1215.7 1070.3,1214.9 1072.9,1212.9 1074.9,1218.0 1078.0,1219.6 1080.4,1215.7 1084.3,1217.3 1088.1,1218.8 1091.2,1209.5 1093.6,1214.2 1095.9,1206.4 1097.8,1203.3 1099.8,1208.7 1103.7,1208.0 1106.0,1218.8 1109.1,1225.0 1110.7,1225.0 1111.7,1203.3 1115.6,1199.4 1117.6,1211.8 1120.7,1219.6 1123.1,1226.6 1127.0,1224.3 1128.5,1229.7 1130.1,1216.5 1131.6,1225.0 1135.5,1229.7 1137.8,1239.0 1140.9,1240.6 1142.5,1248.3 1147.1,1255.3 1147.9,1262.3 1150.2,1269.3 1152.6,1273.2 1154.1,1280.9 1156.5,1288.7 1158.5,1296.5 1159.6,1262.3 1161.9,1273.2 1165.8,1277.8 1167.3,1291.8 1169.7,1274.7 1172.0,1271.6 1173.5,1259.2 1177.4,1261.5 1179.0,1270.1 1180.5,1279.4 1183.6,1287.1 1186.0,1293.4 1189.8,1294.9 1191.4,1302.7 1193.7,1307.3 1197.1,1312.8 1201.5,1311.2 1204.6,1309.7 1208.5,1315.1 1210.8,1298.8 1213.9,1301.1 1216.2,1312.0 1220.1,1312.8 1222.5,1318.2 1224.8,1329.1 1226.3,1334.5 1228.2,1330.6 1230.2,1335.3 1232.5,1339.2 1234.4,1334.5 1237.2,1337.6 1240.3,1343.0 1242.6,1334.5 1245.7,1334.5 1248.1,1341.5 1252.0,1346.9 1256.6,1343.8 1258.9,1350.8 1263.6,1353.1 1265.9,1361.7 1267.5,1368.7 1272.9,1371.0 1276.0,1374.9 1279.9,1373.3 1283.8,1372.5 1286.9,1368.7 1289.2,1370.2 1290.8,1364.0 1294.7,1363.2 1296.2,1352.4 1299.3,1345.4 1302.4,1338.4 1304.0,1340.7 1307.9,1331.4 1310.2,1322.9 1312.5,1327.5 1314.8,1330.6 1316.4,1343.8 1319.5,1343.0 1322.6,1354.7 1325.7,1348.5 1328.0,1353.9 1330.4,1338.4 1332.7,1333.7 1334.3,1340.7 1337.4,1325.2 1340.5,1336.1 1342.8,1343.0 1344.3,1315.1 1346.7,1307.3 1349.3,1301.1 1352.1,1307.3 1355.2,1313.5 1357.5,1322.9 1359.9,1326.7 1363.0,1336.8 1364.8,1321.3 1367.6,1330.6 1370.0,1358.6 1373.9,1357.8 1375.4,1367.1 1379.3,1359.3 1381.6,1364.8 1384.7,1371.8 1388.6,1374.1 1391.7,1380.0 1391.6,1380.8 1394.3,1385.5 1396.3,1376.9 1398.6,1370.7 1401.0,1372.3 1408.7,1368.4 1411.1,1356.0 1412.9,1347.4 1416.5,1349.8 1418.8,1351.3 1420.1,1359.1 1423.5,1356.7 1426.6,1352.9 1429.7,1352.9 1432.0,1347.4 1433.6,1341.2 1435.9,1344.3 1438.2,1332.7 1439.8,1326.5 1442.1,1325.7 1443.7,1317.1 1446.0,1323.4 1448.3,1316.4 1449.9,1313.3 1451.7,1325.7 1454.5,1324.9 1456.1,1315.6 1457.6,1323.4 1460.0,1325.7 1462.3,1331.9 1464.2,1334.2 1466.2,1330.3 1468.5,1321.0 1471.6,1320.2 1473.2,1324.1 1475.5,1320.2 1478.6,1324.1 1480.6,1318.7 1483.3,1321.0 1487.1,1317.9 1489.5,1324.9 1491.8,1324.1 1493.0,1334.2 1494.9,1328.8 1497.2,1307.8 1499.3,1301.6 1501.1,1303.9 1503.9,1303.9 1506.1,1317.1 1507.6,1310.9 1512.0,1316.4 1515.9,1321.0 1517.9,1300.8 1520.5,1304.7 1523.6,1307.8 1524.7,1312.5 1526.7,1298.5 1528.3,1288.4 1530.3,1294.6 1532.2,1300.1 1535.3,1299.3 1536.8,1307.8 1538.7,1310.9 1540.7,1314.8 1542.3,1298.5 1543.0,1307.8 1546.9,1303.2 1548.5,1293.1 1550.8,1301.6 1553.1,1307.8 1554.7,1292.3 1556.2,1303.2 1559.3,1298.5 1561.7,1303.9 1565.6,1307.0 1567.9,1309.4 1572.5,1317.9 1575.2,1334.2 1576.4,1328.0 1579.5,1322.6 1581.9,1320.2 1583.7,1317.1 1586.5,1321.0 1589.6,1324.1 1592.7,1325.7 1594.0,1321.0 1597.1,1321.8 1597.9,1328.8 1599.7,1325.7 1603.6,1324.9 1605.9,1328.8 1609.0,1329.6 1610.6,1321.0 1612.9,1321.8 1616.0,1320.2 1617.6,1314.0 1620.7,1317.1 1624.6,1323.4 1626.9,1328.0 1629.2,1321.8 1631.6,1327.2 1633.9,1326.5 1636.2,1332.7 1639.3,1337.3 1641.2,1330.3 1644.0,1338.9 1646.3,1347.4 1649.4,1330.3 1652.5,1330.3 1654.8,1314.0 1657.2,1308.6 1658.7,1301.6 1661.8,1300.8 1664.2,1303.2 1665.7,1299.3 1667.3,1300.8 1670.4,1300.1 1673.2,1281.4 1675.8,1279.9 1678.1,1274.4 1680.5,1280.7 1682.0,1280.7 1683.6,1285.3 1685.1,1273.7 1689.8,1279.1 1692.1,1283.8 1695.2,1286.9 1696.8,1278.3 1698.3,1258.1 1701.4,1261.2 1703.8,1265.9 1705.3,1272.1 1708.4,1277.5 1710.0,1282.2 1711.5,1275.2 1715.4,1279.1 1717.0,1275.2 1720.8,1272.1 1723.2,1276.8 1730.9,1272.1 1732.5,1267.5 1734.3,1251.9 1735.6,1263.6 1737.9,1259.7 1740.2,1251.9 1744.1,1251.1 1748.0,1247.3 1750.3,1234.1 1751.9,1246.5 1753.4,1252.7 1755.8,1257.4 1758.1,1259.7 1758.9,1265.1 1762.8,1269.0 1765.9,1255.0 1769.0,1258.1 1769.8,1243.4 1771.3,1258.1 1774.4,1259.7 1776.0,1265.9 1780.0,1242.6 1781.2,1241.2 1782.8,1251.9 1784.2,1267.3 1785.9,1266.8 1787.1,1259.6 1788.4,1265.4 1790.3,1265.0 1792.1,1269.9 1794.5,1267.3 1796.3,1263.6 1800.5,1263.6 1801.9,1265.4 1803.3,1269.6 1805.4,1256.6 1807.3,1246.8 1809.4,1253.3 1811.2,1258.0 1812.9,1258.9 1814.3,1246.8 1815.9,1248.7 1817.1,1257.5 1818.9,1258.7 1820.6,1254.7 1821.5,1245.4 1824.3,1246.3 1830.3,1248.4 1832.2,1245.9 1834.0,1233.1 1837.1,1223.0 1838.2,1230.8 1839.8,1209.8 1842.1,1209.8 1844.0,1216.1 1844.9,1194.3 1847.5,1209.1 1849.1,1196.6 1851.7,1205.2 1853.0,1195.9 1855.8,1192.8 1857.3,1149.3 1860.0,1152.4 1862.3,1164.8 1863.9,1136.9 1866.2,1132.2 1867.3,1118.2 1869.8,1126.0 1870.8,1105.8 1873.2,1108.9 1874.4,1122.1 1876.0,1090.3 1878.6,1096.5 1880.9,1091.8 1882.5,1111.2 1886.4,1091.8 1887.1,1082.5 1889.9,1074.0 1892.6,1081.0 1894.1,1061.6 1894.0,1060.9 1895.7,1080.2 1898.1,1087.9 1899.6,1067.7 1900.6,1049.3 1902.9,1052.4 1904.4,1042.3 1906.0,1050.8 1907.5,1068.7 1909.9,1071.8 1912.0,1077.0 1913.9,1084.8 1916.7,1075.5 1919.0,1085.6 1922.1,1089.5 1924.0,1098.8 1925.7,1076.3 1927.6,1083.3 1929.9,1084.0 1932.2,1071.6 1934.7,1060.1 1937.0,1050.0 1939.4,1048.5 1942.5,1043.0 1944.3,1033.0 1945.6,1020.5 1948.7,1022.1 1951.0,1012.0 1953.7,992.6 1955.7,997.2 1960.3,1001.1 1961.9,1016.6 1963.4,998.8 1966.6,1003.4 1968.9,1001.1 1972.0,1008.9 1974.3,1021.3 1976.3,1002.7 1978.2,997.2 1980.5,1012.8 1984.4,1007.3 1986.7,1018.2 1990.6,1028.3 1993.0,1024.4 1994.5,1006.6 1997.6,1005.0 1999.9,1013.5 2003.0,1004.2 2004.6,1012.0 2006.5,1021.3 2010.0,998.0 2012.4,1016.6 2015.5,1019.0 2017.8,1008.1 2019.3,1016.6 2022.5,1016.6 2024.8,996.5 2028.7,988.7 2030.2,975.5 2032.5,996.5 2034.9,1001.9 2038.0,977.0 2040.3,977.0 2041.9,986.4 2043.4,977.8 2052.0,971.6 2053.5,961.5 2055.1,968.5 2056.6,957.6 2059.7,956.1 2062.0,974.7 2064.4,972.4 2065.9,980.9 2067.5,979.4 2069.0,994.1 2071.4,998.0 2073.7,1004.2 2076.8,1003.4 2078.4,993.4 2081.5,991.8 2084.6,985.6 2086.9,984.8 2090.0,988.7 2092.3,994.1 2094.7,991.8 2096.5,999.6 2098.5,984.0 2101.6,983.3 2103.5,996.5 2105.2,972.4 2110.2,978.6 2111.7,982.5 2114.1,983.3 2117.2,990.2 2120.3,990.2 2122.6,985.6 2125.7,988.7 2128.5,987.9 2129.6,992.6 2132.7,992.6 2135.8,1002.7 2139.7,1001.9 2141.2,986.4 2145.1,977.0 2147.5,969.3 2150.6,980.2 2152.9,980.9 2156.0,971.6 2158.3,969.3 2159.1,977.8 2162.2,967.0 2166.1,956.9 2169.2,949.1 2171.1,953.0 2173.1,942.9 2175.4,946.8 2177.0,935.9 2179.3,940.6 2181.6,936.7 2183.9,942.9 2185.5,929.7 2188.6,943.7 2194.0,940.6 2195.6,933.6 2197.1,934.3 2197.9,921.1 2200.2,926.6 2202.1,936.7 2203.4,922.7 2205.7,927.4 2208.3,942.9 2211.9,938.2 2215.5,949.1 2217.3,939.8 2221.2,934.3 2222.8,937.5 2225.9,936.7 2226.6,925.8 2231.3,930.5 2235.2,939.8 2238.3,948.3 2240.0,956.1 2244.0,956.2 2246.3,950.0 2249.4,950.0 2253.3,943.0 2256.1,948.5 2257.6,956.2 2261.8,943.0 2262.9,951.6 2265.7,957.0 2270.7,954.7 2271.9,933.7 2274.3,933.0 2275.3,922.1 2278.1,919.8 2279.7,922.1 2281.6,929.1 2284.0,911.2 2286.7,915.1 2290.6,917.4 2292.9,914.3 2294.4,905.0 2296.0,913.5 2299.9,913.5 2301.4,926.7 2304.5,925.2 2306.4,913.5 2308.4,924.4 2310.7,922.9 2312.0,912.0 2313.1,920.5 2314.6,922.9 2318.2,938.4 2319.3,926.0 2323.9,936.1 2326.6,914.3 2331.7,906.6 2333.3,898.8 2336.4,904.2 2337.9,903.4 2339.9,908.1 2344.1,905.0 2345.7,908.9 2348.3,907.3 2349.3,895.7 2351.9,891.0 2355.0,891.8 2357.3,898.8 2358.6,887.1 2360.7,881.7 2362.8,888.7 2364.3,904.2 2369.0,898.0 2373.6,890.2 2374.7,896.5 2379.1,893.4 2381.4,894.1 2385.3,882.5 2386.8,885.6 2388.1,877.0 2389.9,881.7 2393.0,873.9 2395.4,885.6 2397.7,884.8 2400.0,896.5 2402.4,887.9 2404.7,889.5 2406.2,875.5 2407.8,873.9 2410.1,877.0 2410.9,884.0 2413.2,876.3 2415.6,883.3 2417.9,871.6 2419.4,877.0 2422.5,877.8 2426.4,884.8 2429.5,887.1 2432.6,864.6 2435.3,852.2 2436.5,825.0 2438.9,824.3 2442.0,821.1 2443.5,803.3 2445.1,812.6 2448.2,813.4 2452.0,821.9 2455.2,814.9 2457.5,824.3 2461.4,829.7 2462.1,816.5 2465.2,813.4 2466.0,812.6 2468.4,790.1 2470.7,796.3 2479.2,808.0 2484.7,788.5 2487.8,784.7 2488.2,775.5 2490.6,771.6 2492.1,780.9 2493.7,758.4 2497.5,763.8 2499.1,788.7 2502.5,794.7 2504.5,775.5 2507.6,786.3 2510.7,779.3 2513.1,785.6 2515.4,784.0 2517.7,791.8 2521.6,791.0 2523.5,801.7 2526.6,793.2 2528.1,791.6 2529.7,793.9 2532.8,793.2 2535.1,803.3 2538.2,808.7 2542.1,812.6 2543.4,797.8 2548.3,807.1 2549.9,803.3 2558.4,792.4 2560.0,785.4 2563.1,784.6 2566.6,793.9 2570.1,793.2 2573.5,800.2 2577.5,791.0 2580.0,788.7 2582.7,790.3 2583.9,792.7 2585.9,768.2 2588.5,771.7 2590.5,781.0 2592.6,777.5 2594.9,770.5 2597.3,757.7 2599.6,761.8 2602.5,768.2 2604.3,754.2 2607.2,751.9 2608.3,762.4 2610.7,764.7 2613.6,769.4 2615.3,760.1 2617.1,767.6 2620.0,767.6 2620.6,752.5 2622.9,752.5 2624.1,759.5 2627.0,764.7 2628.7,775.2 2632.2,774.0 2633.4,764.1 2634.5,760.6 2637.8,768.2 2639.2,760.1 2641.5,764.1 2643.3,761.2 2644.4,761.8 2645.9,751.3 2647.9,764.7 2650.8,750.7 2652.6,750.2 2654.9,744.3 2657.8,736.2 2659.0,707.1 2661.3,717.0 2663.1,705.3 2663.6,724.5 2665.4,717.5 2666.0,731.5 2670.1,749.6 2671.2,724.5 2673.0,732.1 2675.3,737.3 2677.6,734.4 2678.8,723.4 2682.3,724.5 2682.9,731.5 2684.6,731.5 2687.5,738.5 2688.3,751.3 2693.9,751.9 2697.4,751.3 2699.8,754.8 2701.5,763.0 2703.8,755.4 2707.0,741.4 2710.2,739.1 2713.1,736.8 2715.5,757.7 2717.8,756.0 2719.0,751.9 2720.7,756.6 2722.5,754.2 2724.2,756.0 2726.3,756.6 2727.1,765.9 2730.6,761.8 2732.9,744.3 2734.7,739.7 2737.0,735.6 2738.4,717.0 2739.9,722.8 2743.4,715.2 2744.0,709.4 2746.3,711.7 2748.7,702.4 2750.4,684.4 2752.2,682.6 2753.9,684.9 2756.2,689.6 2758.0,680.9 2761.2,675.0 2763.2,680.9 2765.0,689.6 2767.9,690.8 2770.2,693.7 2773.7,697.7 2774.5,709.4 2776.6,707.1 2778.9,694.8 2780.1,703.0 2781.9,691.9 2783.0,701.2 2785.3,710.6 2787.7,726.9 2790.0,725.7 2792.3,721.0 2794.1,711.7 2795.5,709.4 2795.8,689.0 2798.2,685.5 2799.0,683.2 2800.5,692.5 2802.5,693.3" fill="none" stroke="#2ca02c" stroke-width="3.75" stroke-linejoin="round" stroke-linecap="square"/>
</g>
<rect x="405" y="194" width="2511" height="1248" fill="none" stroke="#000" stroke-width="2"/>
<g stroke="#000" stroke-width="2">
<line x1="518.0" y1="1442" x2="518.0" y2="1450.75"/>
<line x1="840.0" y1="1442" x2="840.0" y2="1450.75"/>
<line x1="1162.0" y1="1442" x2="1162.0" y2="1450.75"/>
<line x1="1483.0" y1="1442" x2="1483.0" y2="1450.75"/>
<line x1="1805.0" y1="1442" x2="1805.0" y2="1450.75"/>
<line x1="2126.0" y1="1442" x2="2126.0" y2="1450.75"/>
<line x1="2449.0" y1="1442" x2="2449.0" y2="1450.75"/>
<line x1="2770.0" y1="1442" x2="2770.0" y2="1450.75"/>
<line x1="405" y1="1390.0" x2="396.25" y2="1390.0"/>
<line x1="405" y1="1243.0" x2="396.25" y2="1243.0"/>
<line x1="405" y1="1095.0" x2="396.25" y2="1095.0"/>
<line x1="405" y1="947.0" x2="396.25" y2="947.0"/>
<line x1="405" y1="800.0" x2="396.25" y2="800.0"/>
<line x1="405" y1="652.0" x2="396.25" y2="652.0"/>
<line x1="405" y1="505.0" x2="396.25" y2="505.0"/>
<line x1="405" y1="357.0" x2="396.25" y2="357.0"/>
<line x1="405" y1="210.0" x2="396.25" y2="210.0"/>
</g>
<text transform="translate(0 1476.6) scale(0.820 1)" text-anchor="middle" style="font-size:25px" x="609.2 624.4 639.6 654.9">2019</text>
<text transform="translate(0 1476.6) scale(0.820 1)" text-anchor="middle" style="font-size:25px" x="1001.2 1016.4 1031.7 1046.9">2020</text>
<text transform="translate(0 1476.6) scale(0.820 1)" text-anchor="middle" style="font-size:25px" x="1394.3 1409.5 1424.7 1440.0">2021</text>
<text transform="translate(0 1476.6) scale(0.820 1)" text-anchor="middle" style="font-size:25px" x="1786.3 1801.5 1816.8 1832.0">2022</text>
<text transform="translate(0 1476.6) scale(0.820 1)" text-anchor="middle" style="font-size:25px" x="2178.3 2193.5 2208.8 2224.0">2023</text>
<text transform="translate(0 1476.6) scale(0.820 1)" text-anchor="middle" style="font-size:25px" x="2570.3 2585.5 2600.8 2616.0">2024</text>
<text transform="translate(0 1476.6) scale(0.820 1)" text-anchor="middle" style="font-size:25px" x="2963.4 2978.6 2993.9 3009.1">2025</text>
<text transform="translate(0 1476.6) scale(0.820 1)" text-anchor="middle" style="font-size:25px" x="3355.4 3370.6 3385.9 3401.1">2026</text>
<text transform="translate(0 1398.4) scale(0.820 1)" text-anchor="middle" style="font-size:25px" x="419.2 434.5 446.3 464.9">−0.4</text>
<text transform="translate(0 1250.9) scale(0.820 1)" text-anchor="middle" style="font-size:25px" x="419.2 434.5 446.3 464.9">−0.2</text>
<text transform="translate(0 1103.4) scale(0.820 1)" text-anchor="middle" style="font-size:25px" x="434.5 446.3 464.9">0.0</text>
<text transform="translate(0 955.9) scale(0.820 1)" text-anchor="middle" style="font-size:25px" x="434.5 446.3 464.9">0.2</text>
<text transform="translate(0 808.4) scale(0.820 1)" text-anchor="middle" style="font-size:25px" x="434.5 446.3 464.9">0.4</text>
<text transform="translate(0 660.8) scale(0.820 1)" text-anchor="middle" style="font-size:25px" x="434.5 446.3 464.9">0.6</text>
<text transform="translate(0 513.3) scale(0.820 1)" text-anchor="middle" style="font-size:25px" x="434.5 446.3 464.9">0.8</text>
<text transform="translate(0 365.8) scale(0.820 1)" text-anchor="middle" style="font-size:25px" x="434.5 446.3 464.9">1.0</text>
<text transform="translate(0 218.3) scale(0.820 1)" text-anchor="middle" style="font-size:25px" x="434.5 446.3 464.9">1.2</text>
<rect x="418.6" y="207.4" width="602.5" height="107.5" rx="5" ry="5" fill="#fff" fill-opacity="0.8" stroke="#cccccc" stroke-opacity="0.8" stroke-width="2.5"/>
<line x1="427.5" y1="225.8" x2="477.5" y2="225.8" stroke="#1f77b4" stroke-width="3.75" stroke-linecap="square"/>
<text transform="translate(0 233.2) scale(0.820 1)" text-anchor="middle" style="font-size:25px" x="615.2 630.4 645.7 660.9 676.2 691.4 706.6 721.9 737.1 752.4 767.6 782.9 798.1 813.4 828.6 843.8 859.1 874.3 889.6 904.8 920.1 935.3 950.5 965.8 981.0 996.3 1011.5 1026.8 1042.0 1057.3 1072.5 1087.7 1099.6 1133.5 1145.4 1164.0 1179.2 1194.5 1209.7 1224.9">risk_ret_total_barra_indus_daily:1.12978</text>
<line x1="427.5" y1="259.6" x2="477.5" y2="259.6" stroke="#ff7f0e" stroke-width="3.75" stroke-linecap="square"/>
<text transform="translate(791.95 266.7) scale(0.62 1)" text-anchor="middle" style="font-size:25px">m</text>
<text transform="translate(0 266.7) scale(0.820 1)" text-anchor="middle" style="font-size:25px" x="615.2 630.4 645.7 660.9 676.2 691.4 706.6 721.9 737.1 752.4 767.6 782.9 798.1 813.4 828.6 843.8 859.1 874.3 889.6 904.8 920.1 935.3 950.5 981.0 996.3 1011.5 1026.8 1042.0 1057.3 1072.5 1084.4 1118.2 1130.1 1148.7 1164.0 1179.2 1194.5 1209.7">risk_ret_barra_total_cuulative:0.58499</text>
<line x1="427.5" y1="293.2" x2="477.5" y2="293.2" stroke="#2ca02c" stroke-width="3.75" stroke-linecap="square"/>
<text transform="translate(791.95 300.3) scale(0.62 1)" text-anchor="middle" style="font-size:25px">m</text>
<text transform="translate(0 300.3) scale(0.820 1)" text-anchor="middle" style="font-size:25px" x="615.2 630.4 645.7 660.9 676.2 691.4 706.6 721.9 737.1 752.4 767.6 782.9 798.1 813.4 828.6 843.8 859.1 874.3 889.6 904.8 920.1 935.3 950.5 981.0 996.3 1011.5 1026.8 1042.0 1057.3 1072.5 1084.4 1118.2 1130.1 1148.7 1164.0 1179.2 1194.5 1209.7">risk_ret_indus_total_cuulative:0.54479</text>
<text y="180.7" x="1263.8 1293.8 1323.7 1353.7 1383.6 1413.6 1443.5 1473.5" style="font-family:'Liberation Sans','Noto Sans CJK SC',sans-serif;font-size:29.5px;stroke-width:0.24px">累计超额风险收益</text>
<text transform="translate(1511.13 180.0) scale(1.80 1)" text-anchor="middle" style="font-size:30px">-</text>
<text transform="translate(1526.11 180.0) scale(0.66 1)" text-anchor="middle" style="font-size:30px">B</text>
<text transform="translate(1541.08 180.0) scale(0.64 1)" text-anchor="middle" style="font-size:30px">A</text>
<text transform="translate(1556.06 180.0) scale(0.64 1)" text-anchor="middle" style="font-size:30px">R</text>
<text transform="translate(1571.04 180.0) scale(0.64 1)" text-anchor="middle" style="font-size:30px">R</text>
<text transform="translate(1586.02 180.0) scale(0.64 1)" text-anchor="middle" style="font-size:30px">A</text>
<text transform="translate(1600.99 180.0) scale(1.15 1)" text-anchor="middle" style="font-size:30px">/</text>
<text transform="translate(0 180.0) scale(0.820 1)" text-anchor="middle" style="font-size:30px" x=""></text>
<text y="180.7" x="1608.3 1638.2 1668.2 1698.1" style="font-family:'Liberation Sans','Noto Sans CJK SC',sans-serif;font-size:29.5px;stroke-width:0.24px">行业拆解</text>
<text transform="translate(0 180.0) scale(0.820 1)" text-anchor="middle" style="font-size:30px" x="2112.8 2153.3 2171.6 2189.9 2208.1 2226.4 2244.7 2262.9 2281.2 2299.5 2313.7 2336.0 2354.3 2372.5 2390.8 2409.1 2427.3 2445.6 2463.9 2482.1">,(20190102,20260206)</text>
</svg>
</body></html>
